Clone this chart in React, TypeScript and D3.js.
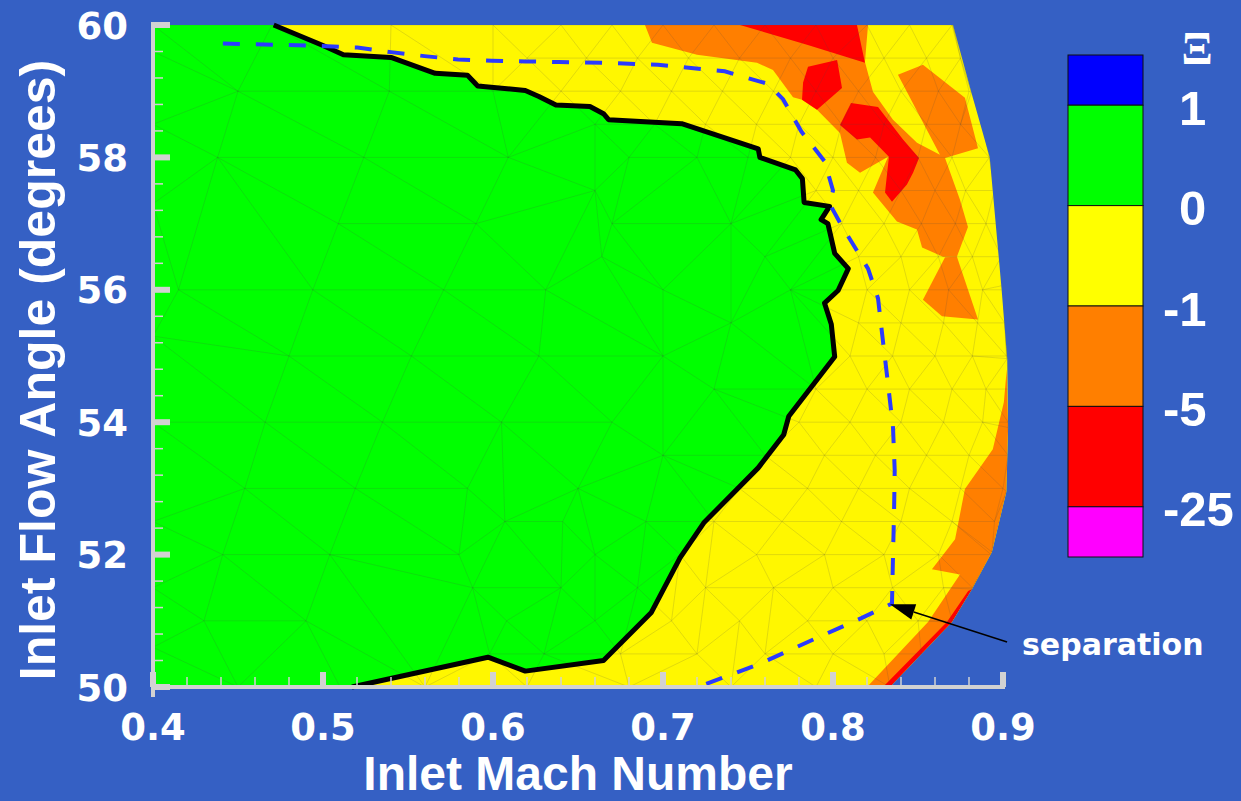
import React from "react";
import * as d3 from "d3";

const W = 1241;
const H = 801;
const BG = "#3560c4";
const AXIS = "#d2d2d2";

// axis ticks
const machTicks = [0.4, 0.5, 0.6, 0.7, 0.8, 0.9];
const machTickLabels = ["0.4", "0.5", "0.6", "0.7", "0.8", "0.9"];
const angleTicks = [50, 52, 54, 56, 58, 60];
const angleTickLabels = ["50", "52", "54", "56", "58", "60"];

// legend
const legendLevels = ["1", "0", "-1", "-5", "-25"];
const legendColors = ["#0000ff", "#00ff00", "#ffff00", "#ff7f00", "#ff0000", "#ff00ff"];

// region colours
const C_GREEN = "#00ff00";
const C_YELLOW = "#fff700";
const C_ORANGE = "#ff7f00";
const C_RED = "#ff0000";

// data domain outline (Mach, angle)
const domainOutline: [number, number][] = [
  [0.4, 60], [0.8706, 60], [0.8814, 58.98], [0.8922, 58.0], [0.899, 56.06], [0.9025, 54.96],
  [0.903, 53.92], [0.902, 52.95], [0.8935, 52.04], [0.8818, 51.48], [0.87, 50.98], [0.8335, 50.0], [0.4, 50],
];

// Xi = 0 contour (thick black line)
const zeroContour: [number, number][] = [
  [0.471, 60.0], [0.5, 59.69], [0.512, 59.55], [0.54, 59.51], [0.566, 59.27], [0.585, 59.24], [0.591, 59.08],
  [0.619, 59.01], [0.627, 58.92], [0.637, 58.79], [0.657, 58.77], [0.665, 58.66], [0.668, 58.57], [0.711, 58.51],
  [0.756, 58.13], [0.757, 58.0], [0.778, 57.81], [0.782, 57.68], [0.783, 57.32], [0.798, 57.26], [0.793, 57.06],
  [0.797, 57.0], [0.801, 56.55], [0.809, 56.32], [0.803, 55.99], [0.795, 55.8], [0.799, 55.48], [0.801, 54.99],
  [0.774, 54.09], [0.771, 53.81], [0.756, 53.31], [0.724, 52.48], [0.71, 51.95], [0.693, 51.12], [0.665, 50.4],
  [0.619, 50.24], [0.597, 50.45], [0.517, 50.0],
];

// separation line (dashed)
const separationLine: [number, number][] = [
  [0.4411, 59.72], [0.4905, 59.69], [0.5202, 59.66], [0.5399, 59.59], [0.5597, 59.53], [0.5794, 59.48],
  [0.5992, 59.46], [0.619, 59.45], [0.6387, 59.44], [0.6637, 59.43], [0.697, 59.4], [0.7363, 59.3],
  [0.7618, 59.11], [0.7706, 58.88], [0.7814, 58.39], [0.7951, 57.94], [0.8, 57.5], [0.798, 57.3], [0.805, 56.97],
  [0.8206, 56.32], [0.8265, 55.87], [0.8294, 55.22], [0.8324, 54.57], [0.8353, 53.92], [0.8363, 53.27],
  [0.8359, 52.62], [0.8353, 51.98], [0.8347, 51.26], [0.8167, 51.04], [0.7912, 50.75], [0.7578, 50.36], [0.7206, 50.0],
];

// orange (-5 < Xi < -1) regions
const orangeUpper: [number, number][] = [
  [0.6894, 60], [0.8206, 60], [0.8188, 59.44], [0.8235, 58.99], [0.8353, 58.57], [0.8494, 58.22], [0.8629, 58.04],
  [0.8382, 59.25], [0.8529, 59.4], [0.8776, 58.9], [0.8853, 58.14], [0.8659, 57.99], [0.8747, 57.36], [0.8794, 56.95],
  [0.8729, 56.5], [0.8647, 56.5], [0.8524, 56.64], [0.8494, 56.91], [0.8376, 57.03], [0.8235, 57.47], [0.8324, 58.01],
  [0.8159, 57.77], [0.8082, 57.92], [0.8041, 58.37], [0.7906, 58.72], [0.7818, 58.87], [0.7765, 58.91], [0.7647, 59.32],
  [0.7553, 59.43], [0.72, 59.55], [0.6935, 59.73],
];
const orangeMid: [number, number][] = [
  [0.8529, 55.85], [0.8659, 56.49], [0.8729, 56.5], [0.8853, 55.55], [0.8641, 55.6],
];
const orangeLower: [number, number][] = [
  [0.9022, 54.8], [0.9025, 54.39], [0.903, 53.92], [0.902, 52.95], [0.8935, 52.04], [0.8818, 51.48], [0.87, 50.98],
  [0.8335, 50.0], [0.82, 50.0], [0.8559, 50.98], [0.8747, 51.7], [0.8582, 51.78], [0.8718, 52.23], [0.8776, 52.99],
  [0.894, 53.59], [0.9005, 54.3],
];

// red (-25 < Xi < -5) regions
const redTop: [number, number][] = [[0.7453, 60], [0.8141, 60], [0.8188, 59.43], [0.7847, 59.7]];
const redSmall: [number, number][] = [
  [0.7853, 59.37], [0.8024, 59.47], [0.8053, 59.05], [0.7906, 58.72], [0.7818, 58.87], [0.7824, 59.13],
];
const redStreak: [number, number][] = [
  [0.8041, 58.49], [0.8106, 58.82], [0.8265, 58.76], [0.8412, 58.27], [0.8506, 57.99], [0.8471, 57.77],
  [0.8435, 57.59], [0.8347, 57.33], [0.8306, 57.47], [0.8329, 58.01], [0.8218, 58.3], [0.8141, 58.27],
];
const redEdge: [number, number][] = [
  [0.8818, 51.48], [0.87, 50.98], [0.8335, 50.0], [0.8294, 50.0], [0.867, 50.98], [0.8795, 51.45],
];

// mesh nodes, row by row (angle, Mach positions)
const meshRows: { a: number; m: number[] }[] = [
  { a: 60, m: [0.4, 0.47, 0.54, 0.6, 0.64, 0.67, 0.7, 0.73, 0.76, 0.79, 0.82, 0.845, 0.87] },
  { a: 59.6, m: [0.4] },
  { a: 59.5, m: [0.62, 0.655, 0.685, 0.715, 0.745, 0.775, 0.8, 0.83, 0.855, 0.875] },
  { a: 59, m: [0.45, 0.539, 0.6, 0.64, 0.675, 0.705, 0.735, 0.765, 0.79, 0.815, 0.84, 0.862, 0.88] },
  { a: 58.5, m: [0.4, 0.66, 0.695, 0.725, 0.755, 0.78, 0.805, 0.83, 0.855, 0.875, 0.888] },
  { a: 58, m: [0.438, 0.524, 0.609, 0.68, 0.72, 0.75, 0.775, 0.8, 0.825, 0.85, 0.87, 0.892] },
  { a: 57.5, m: [0.66, 0.79, 0.815, 0.84, 0.86, 0.878, 0.895] },
  { a: 57.3, m: [0.4] },
  { a: 57, m: [0.509, 0.59, 0.67, 0.74, 0.805, 0.83, 0.852, 0.872, 0.89, 0.897] },
  { a: 56.5, m: [0.664, 0.76, 0.815, 0.84, 0.862, 0.882, 0.899] },
  { a: 56, m: [0.415, 0.494, 0.571, 0.631, 0.7, 0.775, 0.82, 0.845, 0.868, 0.888, 0.9] },
  { a: 55.5, m: [0.74, 0.815, 0.84, 0.865, 0.885, 0.901] },
  { a: 55.3, m: [0.4] },
  { a: 55, m: [0.48, 0.552, 0.627, 0.7, 0.81, 0.835, 0.86, 0.882, 0.902] },
  { a: 54.5, m: [0.73, 0.79, 0.82, 0.845, 0.87, 0.89, 0.903] },
  { a: 54, m: [0.4, 0.466, 0.535, 0.605, 0.67, 0.78, 0.81, 0.84, 0.865, 0.888, 0.903] },
  { a: 53.5, m: [0.7, 0.76, 0.795, 0.825, 0.855, 0.88, 0.903] },
  { a: 53, m: [0.454, 0.519, 0.585, 0.65, 0.745, 0.785, 0.815, 0.845, 0.875, 0.9] },
  { a: 52.5, m: [0.4, 0.607, 0.641, 0.69, 0.73, 0.77, 0.805, 0.84, 0.87, 0.895] },
  { a: 52, m: [0.441, 0.504, 0.58, 0.66, 0.71, 0.755, 0.795, 0.83, 0.862, 0.893] },
  { a: 51.5, m: [0.4, 0.588, 0.64, 0.685, 0.725, 0.765, 0.8, 0.835, 0.865, 0.882] },
  { a: 51, m: [0.43, 0.49, 0.608, 0.66, 0.705, 0.745, 0.785, 0.82, 0.85, 0.87] },
  { a: 50.6, m: [0.4] },
  { a: 50.5, m: [0.598, 0.63, 0.675, 0.72, 0.76, 0.8, 0.83, 0.852] },
  { a: 50, m: [0.4, 0.45, 0.51, 0.56, 0.62, 0.68, 0.74, 0.79, 0.8335] },
];

export default function App() {
  const x = d3.scaleLinear().domain([0.4, 0.9]).range([153, 1003]);
  const y = d3.scaleLinear().domain([50, 60]).range([687, 25]);
  const line = d3.line<[number, number]>().x((d) => x(d[0])).y((d) => y(d[1]));
  const poly = (pts: [number, number][]) => (line(pts) || "") + "Z";

  const greenRegion: [number, number][] = [[0.4, 60], ...zeroContour, [0.4, 50]];

  const meshPts: [number, number][] = [];
  meshRows.forEach((r) => r.m.forEach((m) => meshPts.push([x(m), y(r.a)])));
  domainOutline.slice(1, -1).forEach((p) => meshPts.push([x(p[0]), y(p[1])]));
  const meshPath = d3.Delaunay.from(meshPts).render();

  const xMinor = d3.range(0.42, 0.9, 0.02).filter((v) => Math.abs(v * 10 - Math.round(v * 10)) > 1e-6);
  const yMinor = d3.range(50.4, 60, 0.4).filter((v) => Math.abs(v / 2 - Math.round(v / 2)) > 1e-6);

  const legendY = d3.scaleLinear().domain([-0.5, 4.5]).range([55, 557]);
  const legendEdges = [55, ...legendLevels.map((_, i) => legendY(i)), 557];

  const tickFont = "'DejaVu Sans', sans-serif";
  const titleFont = "'Liberation Sans', Arial, sans-serif";

  // annotation arrow
  const tip: [number, number] = [x(0.8335), y(51.25)];
  const tail: [number, number] = [x(0.9024), y(50.68)];
  const dx = tail[0] - tip[0];
  const dy = tail[1] - tip[1];
  const len = Math.hypot(dx, dy);
  const ux = dx / len;
  const uy = dy / len;
  const hl = 25;
  const hw = 8;
  const bx = tip[0] + ux * hl;
  const by = tip[1] + uy * hl;
  const head = `M${tip[0]},${tip[1]}L${bx - uy * hw},${by + ux * hw}L${bx + uy * hw},${by - ux * hw}Z`;

  return (
    <svg
      width={W}
      height={H}
      viewBox={`0 0 ${W} ${H}`}
      style={{ position: "absolute", left: 0, top: 0, display: "block" }}
    >
      <defs>
        <clipPath id="dom">
          <path d={poly(domainOutline)} />
        </clipPath>
      </defs>
      <rect x={0} y={0} width={W} height={H} fill={BG} />

      {/* contour fills */}
      <path d={poly(domainOutline)} fill={C_YELLOW} />
      <path d={poly(greenRegion)} fill={C_GREEN} />
      <g clipPath="url(#dom)">
        <path d={poly(orangeUpper)} fill={C_ORANGE} />
        <path d={poly(orangeMid)} fill={C_ORANGE} />
        <path d={poly(orangeLower)} fill={C_ORANGE} />
        <path d={poly(redTop)} fill={C_RED} />
        <path d={poly(redSmall)} fill={C_RED} />
        <path d={poly(redStreak)} fill={C_RED} />
        <path d={poly(redEdge)} fill={C_RED} />
        <path d={meshPath} fill="none" stroke="rgba(70,70,70,0.24)" strokeWidth={0.7} />
      </g>

      {/* contour lines */}
      <path d={line(zeroContour) || ""} fill="none" stroke="#000" strokeWidth={5} strokeLinejoin="round" />
      <path
        d={line(separationLine) || ""}
        fill="none"
        stroke="#2b3bff"
        strokeWidth={4}
        strokeDasharray="17 16"
      />

      {/* axes */}
      <rect x={151} y={22} width={4} height={675} fill={AXIS} />
      <rect x={151} y={685} width={854} height={4} fill={AXIS} />
      {angleTicks.map((t) => (
        <rect key={"ym" + t} x={153} y={y(t) - 3} width={17} height={6} fill={AXIS} />
      ))}
      {yMinor.map((t) => (
        <rect key={"yn" + t} x={153} y={y(t) - 0.75} width={10} height={1.5} fill={AXIS} />
      ))}
      {machTicks.map((t) => (
        <rect key={"xm" + t} x={x(t) - 3} y={672} width={6} height={15} fill={AXIS} />
      ))}
      {xMinor.map((t) => (
        <rect key={"xn" + t} x={x(t) - 0.75} y={677} width={1.5} height={10} fill={AXIS} />
      ))}

      {/* tick labels */}
      {machTicks.map((t, i) => (
        <text
          key={"xl" + t}
          x={x(t)}
          y={740}
          textAnchor="middle"
          fill="#fff"
          fontFamily={tickFont}
          fontWeight="bold"
          fontSize={37}
        >
          {machTickLabels[i]}
        </text>
      ))}
      {angleTicks.map((t, i) => (
        <text
          key={"yl" + t}
          x={128}
          y={y(t) + 13.5}
          textAnchor="end"
          fill="#fff"
          fontFamily={tickFont}
          fontWeight="bold"
          fontSize={37}
        >
          {angleTickLabels[i]}
        </text>
      ))}

      {/* axis titles */}
      <text x={578} y={790} textAnchor="middle" fill="#fff" fontFamily={titleFont} fontWeight="bold" fontSize={48}>
        Inlet Mach Number
      </text>
      <text
        transform={`translate(55,370) rotate(-90)`}
        textAnchor="middle"
        fill="#fff"
        fontFamily={titleFont}
        fontWeight="bold"
        fontSize={50}
      >
        Inlet Flow Angle (degrees)
      </text>

      {/* annotation */}
      <line x1={tail[0]} y1={tail[1]} x2={bx} y2={by} stroke="#000" strokeWidth={1.5} />
      <path d={head} fill="#000" />
      <text x={1022} y={655} fill="#fff" fontFamily={tickFont} fontWeight="bold" fontSize={30}>
        separation
      </text>

      {/* legend */}
      {legendColors.map((c, i) => (
        <rect
          key={"lg" + i}
          x={1068}
          y={legendEdges[i]}
          width={75}
          height={legendEdges[i + 1] - legendEdges[i]}
          fill={c}
          stroke="#111"
          strokeWidth={1}
        />
      ))}
      {legendLevels.map((l, i) => (
        <text
          key={"ll" + i}
          x={l.startsWith("-") ? 1163 : 1179}
          y={legendY(i) + 19.5}
          fill="#fff"
          fontFamily={titleFont}
          fontWeight="bold"
          fontSize={49}
        >
          {l}
        </text>
      ))}
      <text
        x={1197}
        y={64}
        textAnchor="middle"
        fill="#fff"
        fontFamily="'Liberation Serif', 'DejaVu Serif', serif"
        fontWeight="bold"
        fontSize={46}
      >
        Ξ
      </text>
    </svg>
  );
}
